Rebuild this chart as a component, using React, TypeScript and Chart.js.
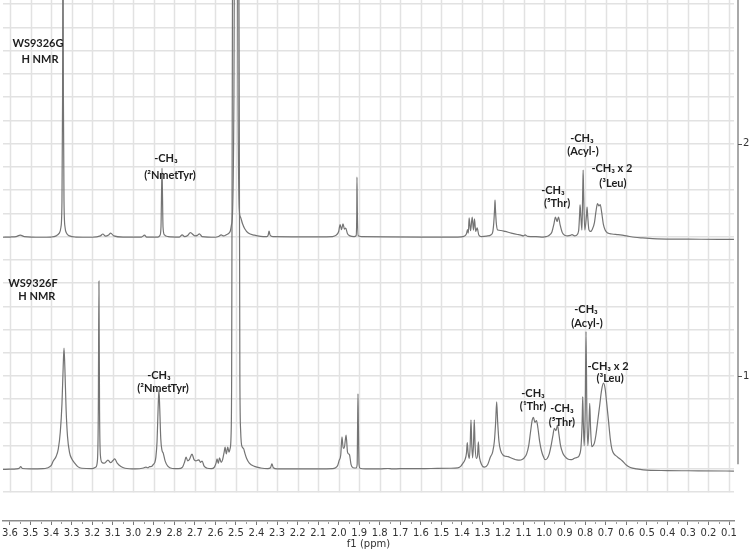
import React, { useEffect, useRef } from "react";
import { Chart, registerables } from "chart.js";

Chart.register(...registerables);

// ---- axis ranges / tick settings ----
const xRange = [0.0757, 3.634]; // ppm (axis reversed)
const yRange = [0.376, 2.618];
const xStep = 0.1;
const yStep = 0.1;
const yLabelValues = [1, 2];
const gridFloor = 0.5;
const yAxisFloor = 0.62;

// ---- spectra: [ppm, intensity] ----
const topSpectrum: [number, number][] = [
  [3.634, 1.597], [3.6, 1.598], [3.57, 1.6], [3.55, 1.606], [3.53, 1.6], [3.45, 1.597], [3.4, 1.598],
  [3.375, 1.603], [3.36, 1.615], [3.352, 1.64], [3.347, 1.75], [3.344, 2.2], [3.342, 3.2], [3.34, 2.2],
  [3.337, 1.75], [3.332, 1.64], [3.325, 1.615], [3.31, 1.603], [3.28, 1.598], [3.2, 1.597], [3.16, 1.603],
  [3.148, 1.611], [3.135, 1.602], [3.12, 1.607], [3.11, 1.615], [3.095, 1.603], [3.05, 1.598], [2.96, 1.598],
  [2.945, 1.606], [2.935, 1.598], [2.88, 1.598], [2.87, 1.605], [2.865, 1.64], [2.862, 1.8], [2.86, 1.895],
  [2.858, 1.8], [2.855, 1.64], [2.848, 1.607], [2.83, 1.6], [2.775, 1.598], [2.762, 1.607], [2.75, 1.6],
  [2.735, 1.605], [2.722, 1.617], [2.7, 1.603], [2.688, 1.605], [2.678, 1.612], [2.665, 1.6], [2.6, 1.597],
  [2.585, 1.6], [2.572, 1.607], [2.56, 1.603], [2.545, 1.609], [2.534, 1.615], [2.527, 1.625], [2.522, 1.65],
  [2.516, 1.72], [2.51, 2.2], [2.505, 3.5], [2.5, 3.9], [2.495, 3.5], [2.49, 2.2], [2.484, 1.72], [2.478, 1.684],
  [2.468, 1.655], [2.458, 1.635], [2.44, 1.615], [2.41, 1.606], [2.38, 1.601], [2.35, 1.6], [2.343, 1.607],
  [2.339, 1.623], [2.334, 1.607], [2.32, 1.6], [2.1, 1.599], [2.03, 1.6], [2.012, 1.606], [2.0, 1.622],
  [1.993, 1.652], [1.986, 1.63], [1.979, 1.655], [1.972, 1.632], [1.966, 1.636], [1.957, 1.612], [1.945, 1.603],
  [1.925, 1.6], [1.915, 1.604], [1.912, 1.7], [1.911, 1.856], [1.909, 1.7], [1.905, 1.603], [1.89, 1.6],
  [1.6, 1.598], [1.42, 1.598], [1.39, 1.601], [1.378, 1.612], [1.373, 1.63], [1.369, 1.615], [1.365, 1.68],
  [1.358, 1.625], [1.35, 1.684], [1.344, 1.628], [1.339, 1.676], [1.333, 1.622], [1.326, 1.637], [1.318, 1.607],
  [1.305, 1.6], [1.28, 1.602], [1.258, 1.608], [1.25, 1.62], [1.245, 1.66], [1.241, 1.72], [1.239, 1.757],
  [1.237, 1.72], [1.233, 1.66], [1.226, 1.628], [1.21, 1.626], [1.19, 1.622], [1.16, 1.615], [1.13, 1.609],
  [1.117, 1.607], [1.1, 1.603], [1.093, 1.607], [1.08, 1.601], [1.04, 1.6], [1.005, 1.598], [0.99, 1.6],
  [0.975, 1.606], [0.962, 1.62], [0.952, 1.655], [0.945, 1.684], [0.937, 1.665], [0.93, 1.684], [0.922, 1.65],
  [0.912, 1.618], [0.9, 1.606], [0.885, 1.603], [0.872, 1.605], [0.864, 1.608], [0.852, 1.603], [0.842, 1.606],
  [0.832, 1.625], [0.827, 1.7], [0.825, 1.736], [0.822, 1.7], [0.816, 1.628], [0.812, 1.8], [0.81, 1.886],
  [0.808, 1.8], [0.802, 1.628], [0.794, 1.69], [0.791, 1.727], [0.788, 1.69], [0.782, 1.63], [0.775, 1.622],
  [0.765, 1.632], [0.755, 1.66], [0.747, 1.712], [0.74, 1.742], [0.733, 1.732], [0.727, 1.738], [0.72, 1.705],
  [0.712, 1.655], [0.703, 1.628], [0.69, 1.615], [0.67, 1.611], [0.64, 1.608], [0.6, 1.603], [0.56, 1.597],
  [0.52, 1.594], [0.45, 1.59], [0.3, 1.589], [0.15, 1.588], [0.076, 1.588],
];

const bottomSpectrum: [number, number][] = [
  [3.634, 0.598], [3.6, 0.599], [3.57, 0.6], [3.555, 0.603], [3.548, 0.61], [3.54, 0.602], [3.5, 0.6],
  [3.44, 0.601], [3.42, 0.604], [3.4, 0.614], [3.39, 0.633], [3.375, 0.655], [3.365, 0.685], [3.355, 0.76],
  [3.347, 0.88], [3.341, 1.04], [3.337, 1.12], [3.333, 1.04], [3.327, 0.86], [3.32, 0.74], [3.31, 0.67],
  [3.3, 0.645], [3.285, 0.625], [3.27, 0.61], [3.25, 0.603], [3.2, 0.601], [3.182, 0.608], [3.174, 0.64],
  [3.17, 0.85], [3.167, 1.408], [3.164, 0.85], [3.16, 0.66], [3.152, 0.628], [3.14, 0.625], [3.123, 0.638],
  [3.11, 0.627], [3.1, 0.635], [3.09, 0.643], [3.078, 0.625], [3.06, 0.61], [3.04, 0.603], [2.99, 0.6],
  [2.95, 0.604], [2.938, 0.608], [2.928, 0.605], [2.92, 0.61], [2.91, 0.611], [2.902, 0.62], [2.895, 0.628],
  [2.89, 0.65], [2.884, 0.72], [2.879, 0.86], [2.875, 0.94], [2.871, 0.86], [2.866, 0.73], [2.86, 0.68],
  [2.854, 0.668], [2.845, 0.635], [2.832, 0.612], [2.81, 0.602], [2.78, 0.601], [2.76, 0.608], [2.75, 0.63],
  [2.743, 0.651], [2.735, 0.635], [2.727, 0.64], [2.714, 0.664], [2.704, 0.64], [2.695, 0.635], [2.686, 0.638],
  [2.68, 0.639], [2.673, 0.628], [2.665, 0.634], [2.655, 0.612], [2.64, 0.603], [2.62, 0.601], [2.605, 0.608],
  [2.597, 0.625], [2.592, 0.643], [2.586, 0.624], [2.58, 0.648], [2.572, 0.628], [2.565, 0.64], [2.557, 0.675],
  [2.553, 0.694], [2.547, 0.665], [2.54, 0.694], [2.534, 0.672], [2.529, 0.686], [2.524, 0.74], [2.521, 1.0],
  [2.518, 2.2], [2.515, 3.4], [2.505, 3.9], [2.495, 3.9], [2.488, 3.4], [2.484, 2.2], [2.481, 1.0],
  [2.477, 0.76], [2.47, 0.695], [2.463, 0.688], [2.457, 0.669], [2.448, 0.645], [2.435, 0.625], [2.41, 0.611],
  [2.38, 0.604], [2.345, 0.601], [2.332, 0.605], [2.325, 0.622], [2.318, 0.605], [2.3, 0.6], [2.1, 0.6],
  [2.03, 0.601], [2.015, 0.605], [2.005, 0.615], [1.998, 0.636], [1.99, 0.66], [1.984, 0.738], [1.978, 0.69],
  [1.973, 0.69], [1.964, 0.746], [1.957, 0.672], [1.952, 0.665], [1.947, 0.66], [1.94, 0.62], [1.93, 0.605],
  [1.915, 0.604], [1.91, 0.62], [1.908, 0.78], [1.906, 0.923], [1.904, 0.78], [1.901, 0.62], [1.896, 0.603],
  [1.87, 0.6], [1.8, 0.6], [1.76, 0.602], [1.74, 0.6], [1.7, 0.601], [1.64, 0.601], [1.55, 0.602],
  [1.46, 0.603], [1.42, 0.605], [1.405, 0.612], [1.395, 0.625], [1.385, 0.64], [1.378, 0.668], [1.374, 0.713],
  [1.37, 0.67], [1.364, 0.645], [1.36, 0.7], [1.356, 0.811], [1.352, 0.7], [1.348, 0.648], [1.344, 0.7],
  [1.34, 0.811], [1.336, 0.7], [1.33, 0.645], [1.324, 0.66], [1.32, 0.717], [1.316, 0.66], [1.31, 0.632],
  [1.3, 0.612], [1.29, 0.608], [1.275, 0.618], [1.262, 0.65], [1.25, 0.675], [1.242, 0.72], [1.236, 0.8],
  [1.231, 0.889], [1.226, 0.8], [1.22, 0.72], [1.212, 0.68], [1.2, 0.66], [1.185, 0.654], [1.176, 0.653],
  [1.16, 0.647], [1.145, 0.642], [1.133, 0.639], [1.12, 0.638], [1.105, 0.642], [1.095, 0.65], [1.085, 0.665],
  [1.075, 0.7], [1.066, 0.76], [1.058, 0.81], [1.052, 0.822], [1.045, 0.8], [1.037, 0.808], [1.03, 0.775],
  [1.022, 0.72], [1.012, 0.675], [1.002, 0.65], [0.995, 0.64], [0.985, 0.645], [0.975, 0.665], [0.966, 0.7],
  [0.958, 0.74], [0.95, 0.775], [0.942, 0.765], [0.935, 0.789], [0.928, 0.75], [0.92, 0.7], [0.91, 0.67],
  [0.898, 0.653], [0.885, 0.643], [0.87, 0.64], [0.86, 0.642], [0.85, 0.647], [0.838, 0.65], [0.828, 0.66],
  [0.82, 0.7], [0.815, 0.8], [0.812, 0.911], [0.809, 0.8], [0.805, 0.7], [0.8, 0.85], [0.796, 1.191],
  [0.792, 0.85], [0.787, 0.7], [0.782, 0.78], [0.778, 0.882], [0.774, 0.78], [0.768, 0.696], [0.762, 0.7],
  [0.755, 0.712], [0.748, 0.745], [0.74, 0.8], [0.73, 0.87], [0.72, 0.94], [0.711, 0.969], [0.703, 0.945],
  [0.695, 0.88], [0.687, 0.811], [0.678, 0.73], [0.67, 0.685], [0.66, 0.665], [0.648, 0.655], [0.635, 0.646],
  [0.62, 0.635], [0.6, 0.617], [0.58, 0.606], [0.55, 0.6], [0.517, 0.596], [0.4, 0.593], [0.25, 0.592],
  [0.076, 0.591],
];

// ---- text annotations anchored at [ppm, intensity] ----
const annotationTexts = [
  "WS9326G", "H NMR", "-CH₃", "(²NmetTyr)", "-CH₃", "(⁵Thr)", "-CH₃", "(Acyl-)", "-CH₃ x 2", "(³Leu)",
  "WS9326F", "H NMR", "-CH₃", "(²NmetTyr)", "-CH₃", "(¹Thr)", "-CH₃", "(⁵Thr)", "-CH₃", "(Acyl-)", "-CH₃ x 2", "(³Leu)",
];
const annotationAnchors: [number, number][] = [
  [3.464, 2.429], [3.454, 2.364], [2.841, 1.938], [2.821, 1.865], [0.957, 1.8], [0.937, 1.744],
  [0.816, 2.024], [0.811, 1.968], [0.67, 1.891], [0.665, 1.83],
  [3.488, 1.4], [3.469, 1.344], [2.875, 1.004], [2.855, 0.948], [1.054, 0.927], [1.054, 0.871],
  [0.913, 0.862], [0.913, 0.802], [0.796, 1.288], [0.791, 1.228], [0.689, 1.043], [0.679, 0.991],
];

const axisFont = '"DejaVu Sans", Verdana, sans-serif';
const labelFont = 'Lato, "DejaVu Sans", sans-serif';

const near = (v: number, t: number) => Math.abs(v - t) < 1e-6;

const extrasPlugin = {
  id: "nmrExtras",
  beforeDatasetsDraw(chart: any) {
    const { ctx, chartArea, scales } = chart;
    const xs = scales.x;
    const ys = scales.y;
    const yBottom = ys.getPixelForValue(gridFloor);
    ctx.save();
    ctx.strokeStyle = "#e2e2e2";
    ctx.lineWidth = 1.5;
    xs.ticks.forEach((t: any) => {
      const px = Math.round(xs.getPixelForValue(t.value)) + 0.5;
      ctx.beginPath();
      ctx.moveTo(px, chartArea.top);
      ctx.lineTo(px, yBottom);
      ctx.stroke();
    });
    ctx.restore();
  },
  afterDraw(chart: any) {
    const { ctx, chartArea, scales } = chart;
    const xs = scales.x;
    const ys = scales.y;
    ctx.save();
    // right intensity axis line + major ticks
    const axX = chartArea.right + 4;
    ctx.strokeStyle = "#8c8c8c";
    ctx.lineWidth = 1.5;
    ctx.beginPath();
    ctx.moveTo(axX, chartArea.top);
    ctx.lineTo(axX, ys.getPixelForValue(yAxisFloor));
    ctx.stroke();
    ctx.strokeStyle = "#555";
    ctx.lineWidth = 1;
    yLabelValues.forEach((v) => {
      const py = Math.round(ys.getPixelForValue(v)) + 0.5;
      ctx.beginPath();
      ctx.moveTo(axX, py);
      ctx.lineTo(axX + 4, py);
      ctx.stroke();
    });
    // minor ticks on the ppm axis
    ctx.strokeStyle = "#999";
    xs.ticks.forEach((t: any) => {
      const v = t.value + xStep / 2;
      if (v > xRange[1]) return;
      const px = Math.round(xs.getPixelForValue(v)) + 0.5;
      ctx.beginPath();
      ctx.moveTo(px, chartArea.bottom + 1);
      ctx.lineTo(px, chartArea.bottom + 3);
      ctx.stroke();
    });
    // annotations
    ctx.fillStyle = "#1e1e1e";
    ctx.font = `bold 11px ${labelFont}`;
    ctx.textAlign = "center";
    ctx.textBaseline = "middle";
    annotationTexts.forEach((txt, i) => {
      const [ppm, v] = annotationAnchors[i];
      ctx.fillText(txt, xs.getPixelForValue(ppm), ys.getPixelForValue(v));
    });
    ctx.restore();
  },
};

export default function App() {
  const canvasRef = useRef<HTMLCanvasElement | null>(null);

  useEffect(() => {
    if (!canvasRef.current) return;
    const traceStyle = {
      borderColor: "#747474",
      borderWidth: 1.2,
      pointRadius: 0,
      fill: false,
      cubicInterpolationMode: "monotone" as const,
    };
    const chart = new Chart(canvasRef.current, {
      type: "line",
      data: {
        datasets: [
          { ...traceStyle, label: "WS9326G", data: topSpectrum.map(([x, y]) => ({ x, y })) },
          { ...traceStyle, label: "WS9326F", data: bottomSpectrum.map(([x, y]) => ({ x, y })) },
        ],
      },
      options: {
        animation: false,
        responsive: false,
        maintainAspectRatio: false,
        layout: { padding: { left: 3, right: 0, top: 0, bottom: 0 } },
        plugins: { legend: { display: false }, tooltip: { enabled: false } },
        scales: {
          x: {
            type: "linear",
            reverse: true,
            min: xRange[0],
            max: xRange[1],
            afterFit: (s: any) => {
              s.height = 29;
              s.paddingLeft = 0;
              s.paddingRight = 0;
            },
            grid: {
              display: true,
              drawOnChartArea: false,
              drawTicks: true,
              tickLength: 4,
              tickColor: "#777",
              tickWidth: 1,
            },
            border: { display: true, color: "#8c8c8c", width: 1.5 },
            ticks: {
              stepSize: xStep,
              maxTicksLimit: 1000,
              includeBounds: false,
              autoSkip: false,
              maxRotation: 0,
              padding: 2,
              color: "#333",
              font: { family: axisFont, size: 10 },
              callback: (v: any) => Number(v).toFixed(1),
            },
            title: {
              display: true,
              text: "f1 (ppm)",
              color: "#333",
              font: { family: axisFont, size: 10 },
              padding: 0,
            },
          },
          y: {
            type: "linear",
            position: "right",
            min: yRange[0],
            max: yRange[1],
            afterFit: (s: any) => {
              s.width = 16;
              s.paddingTop = 0;
              s.paddingBottom = 0;
            },
            grid: {
              color: (c: any) => (c.tick && c.tick.value >= gridFloor - 1e-6 ? "#e2e2e2" : "rgba(0,0,0,0)"),
              lineWidth: 1.5,
              drawTicks: false,
            },
            border: { display: false },
            ticks: {
              stepSize: yStep,
              maxTicksLimit: 1000,
              includeBounds: false,
              autoSkip: false,
              padding: 9,
              color: "#333",
              font: { family: axisFont, size: 10 },
              callback: (v: any) => {
                const hit = yLabelValues.find((t) => near(Number(v), t));
                return hit !== undefined ? String(hit) : "";
              },
            },
          },
        },
      },
      plugins: [extrasPlugin],
    });
    return () => chart.destroy();
  }, []);

  return (
    <div style={{ position: "fixed", left: 0, top: 0, width: 750, height: 550, background: "#fff" }}>
      <canvas ref={canvasRef} width={750} height={550} style={{ display: "block" }} />
    </div>
  );
}
